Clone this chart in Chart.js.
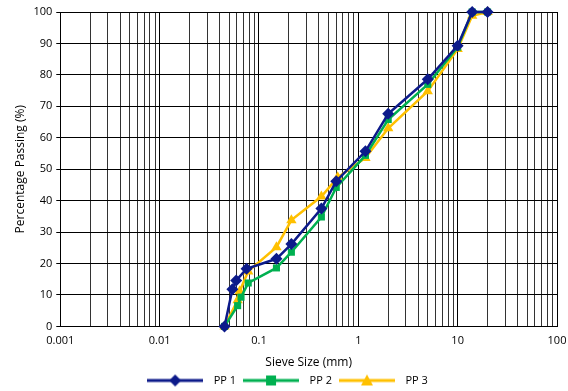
<!DOCTYPE html>
<html>
<head>
<meta charset="utf-8">
<script src="https://cdn.jsdelivr.net/npm/chart.js@4/dist/chart.umd.min.js"></script>
<style>
  html, body { margin: 0; padding: 0; background: #fff; }
  #wrap { width: 568px; height: 391px; position: relative; }
</style>
</head>
<body>
<div id="wrap"><canvas id="psd"></canvas></div>
<script>
// sieve sizes (mm) and percentage passing
const sizesPP1 = [0.045, 0.054, 0.059, 0.075, 0.15, 0.212, 0.425, 0.6, 1.18, 2, 5, 10, 14, 20];
const passPP1  = [0, 11.8, 14.6, 18.3, 21.5, 26.2, 37.5, 46.2, 55.7, 67.6, 78.6, 89.3, 100, 100];

const sizesPP2 = [0.045, 0.061, 0.066, 0.078, 0.15, 0.212, 0.425, 0.6, 1.18, 2, 5, 10, 14, 20];
const passPP2  = [0, 6.6, 9.3, 13.8, 18.6, 23.6, 34.8, 44.2, 54.4, 65.8, 77.0, 88.8, 100, 100];

const sizesPP3 = [0.045, 0.061, 0.064, 0.078, 0.15, 0.212, 0.425, 0.62, 1.18, 2, 5, 10, 14, 20];
const passPP3  = [0, 8.3, 11.2, 17.5, 25.2, 33.8, 41.3, 47.4, 53.6, 63.0, 74.8, 88.2, 98.8, 100];

const yTicks = [0, 10, 20, 30, 40, 50, 60, 70, 80, 90, 100];

function pts(xs, ys) { return xs.map((x, i) => ({ x: x, y: ys[i] })); }

// all 1..9 x 10^n gridline values between 0.001 and 100
const xGrid = [];
for (let e = -3; e <= 1; e++) {
  for (let m = 1; m <= 9; m++) xGrid.push(+(m * Math.pow(10, e)).toPrecision(3));
}
xGrid.push(100);
const isMajor = v => Math.abs(Math.log10(v) - Math.round(Math.log10(v))) < 1e-9;

// legend swatch: line with marker in the middle
function swatch(color, style) {
  const c = document.createElement('canvas');
  c.width = 56; c.height = 14;
  const g = c.getContext('2d');
  g.strokeStyle = color; g.lineWidth = 3;
  g.beginPath(); g.moveTo(0, 7); g.lineTo(56, 7); g.stroke();
  g.fillStyle = color;
  g.beginPath();
  if (style === 'rectRot') { g.moveTo(28, 1); g.lineTo(34, 7); g.lineTo(28, 13); g.lineTo(22, 7); }
  else if (style === 'rect') { g.rect(23, 2, 10, 10); }
  else { g.moveTo(28, 1); g.lineTo(34, 12); g.lineTo(22, 12); }
  g.closePath(); g.fill();
  return c;
}

const font = "'Open Sans', 'Liberation Sans', sans-serif";
const series = [
  { label: 'PP 1', data: pts(sizesPP1, passPP1), color: '#0c1a8a', style: 'rectRot', r: 6 },
  { label: 'PP 2', data: pts(sizesPP2, passPP2), color: '#00b050', style: 'rect', r: 5 },
  { label: 'PP 3', data: pts(sizesPP3, passPP3), color: '#ffc000', style: 'triangle', r: 6 }
];

new Chart(document.getElementById('psd'), {
  type: 'line',
  data: {
    datasets: series.map(s => ({
      label: s.label,
      data: s.data,
      borderColor: s.color,
      backgroundColor: s.color,
      borderWidth: 2.5,
      pointStyle: s.style,
      pointRadius: s.r,
      pointHoverRadius: s.r,
      pointBorderWidth: 0,
      tension: 0,
      clip: false
    }))
  },
  options: {
    responsive: true,
    maintainAspectRatio: false,
    animation: false,
    layout: { padding: { top: 12, right: 11, left: 13, bottom: -5 } },
    plugins: {
      tooltip: { enabled: false },
      legend: {
        position: 'bottom',
        labels: {
          font: { family: font, size: 11 },
          color: '#000',
          usePointStyle: true,
          pointStyleWidth: 66,
          boxHeight: 11,
          padding: 2,
          generateLabels: chart => series.map((s, i) => ({
            text: s.label,
            pointStyle: swatch(s.color, s.style),
            fillStyle: s.color,
            strokeStyle: s.color,
            lineWidth: 0,
            datasetIndex: i,
            hidden: false
          }))
        }
      }
    },
    scales: {
      x: {
        type: 'logarithmic',
        min: 0.001,
        max: 100,
        afterBuildTicks: sc => { sc.ticks = xGrid.map(v => ({ value: v, major: isMajor(v) })); },
        afterFit: sc => { sc.paddingRight = 0; },
        ticks: {
          autoSkip: false,
          maxRotation: 0,
          font: { family: font, size: 11 },
          color: '#000',
          padding: 8,
          callback: v => isMajor(v) ? String(v) : ''
        },
        grid: {
          color: ctx => (ctx.tick && isMajor(ctx.tick.value)) ? '#000' : '#333',
          lineWidth: 1,
          drawTicks: false
        },
        border: { color: '#000', width: 1 },
        title: { display: true, text: 'Sieve Size (mm)', font: { family: font, size: 12 }, color: '#000', padding: { top: 0, bottom: 3 } }
      },
      y: {
        min: 0,
        max: 100,
        afterBuildTicks: sc => { sc.ticks = yTicks.map(v => ({ value: v })); },
        ticks: { font: { family: font, size: 11 }, color: '#000', padding: 4 },
        grid: { color: '#000', lineWidth: 1, tickLength: 4 },
        border: { color: '#000', width: 1 },
        title: { display: true, text: 'Percentage Passing (%)', font: { family: font, size: 12 }, color: '#000', padding: { top: 0, bottom: 2 } }
      }
    }
  }
});
</script>
</body>
</html>
